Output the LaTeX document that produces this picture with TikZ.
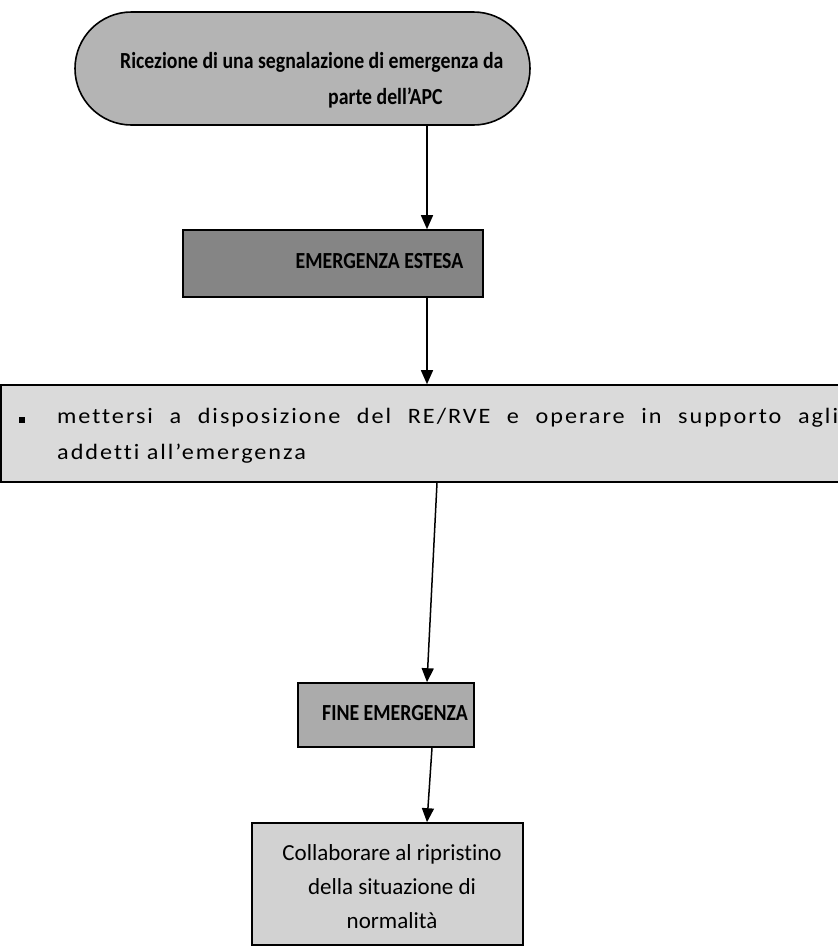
\documentclass[tikz,border=0pt]{standalone}
\usepackage{fontspec}
\setmainfont[Ligatures=NoCommon]{Carlito}
\newfontfamily\narrowfont[FakeStretch=0.86,Ligatures=NoCommon]{Carlito}
\newfontfamily\spacedfont[FakeStretch=1.1,LetterSpace=9,Ligatures=NoCommon]{Carlito}
\usetikzlibrary{shapes.misc,arrows.meta}
\definecolor{gA}{HTML}{B4B4B4}
\definecolor{gB}{HTML}{858585}
\definecolor{gC}{HTML}{DADADA}
\definecolor{gD}{HTML}{ABABAB}
\definecolor{gE}{HTML}{D2D2D2}
\begin{document}
\begin{tikzpicture}[x=1pt,y=-1pt,
  box/.style={draw=black,line width=1.6pt,inner sep=0pt},
  lbl/.style={inner sep=0pt,font=\narrowfont\bfseries\fontsize{23}{36}\selectfont,align=center},
  arr/.style={-{Triangle[length=14pt,width=12pt]},line width=1.5pt}]
\useasboundingbox (0,0) rectangle (838,951);
% shapes
\node[box,rounded rectangle,fill=gA,minimum width=455pt,minimum height=113pt] (stad) at (302.5,68.5) {};
\node[box,fill=gB,minimum width=300pt,minimum height=67pt] (emerg) at (333,263.5) {};
\node[box,fill=gC,minimum width=838pt,minimum height=97pt] (wide) at (420,433.5) {};
\node[box,fill=gD,minimum width=176pt,minimum height=64pt] (fine) at (386,715) {};
\node[box,fill=gE,minimum width=271pt,minimum height=122pt] (coll) at (387.5,884) {};
% texts
\node[lbl,align=left,anchor=base west] (stadtxt) at (120,104)
  {Ricezione di una segnalazione di emergenza da\\\hspace*{208pt}parte dell’APC};
\node[lbl,anchor=base] (emergtxt) at (379.5,268) {EMERGENZA ESTESA};
\node[inner sep=0pt,anchor=base west,text width=781pt,align=justify,
  font=\spacedfont\fontsize{22}{36}\selectfont] (widetxt) at (57,423)
  {\llap{\rule{6pt}{6pt}\hspace{32pt}}mettersi a disposizione del RE/RVE e operare in supporto agli\linebreak addetti all’emergenza};
\node[lbl,anchor=base west] (finetxt) at (322,720) {FINE EMERGENZA};
\node[inner sep=0pt,align=center,anchor=base,font=\fontsize{23}{34}\selectfont] (colltxt) at (392,928) {Collaborare al ripristino\\della situazione di\\normalità};
% connectors
\coordinate (c1) at (427,0);
\coordinate (c3a) at (437,0);
\coordinate (c3b) at (427,0);
\coordinate (c4a) at (432,0);
\coordinate (c4b) at (427,0);
\draw[arr] (stad.south -| c1) -- (emerg.north -| c1);
\draw[arr] (emerg.south -| c1) -- (wide.north -| c1);
\draw[arr] (wide.south -| c3a) -- (fine.north -| c3b);
\draw[arr] (fine.south -| c4a) -- (coll.north -| c4b);
\end{tikzpicture}
\end{document}
